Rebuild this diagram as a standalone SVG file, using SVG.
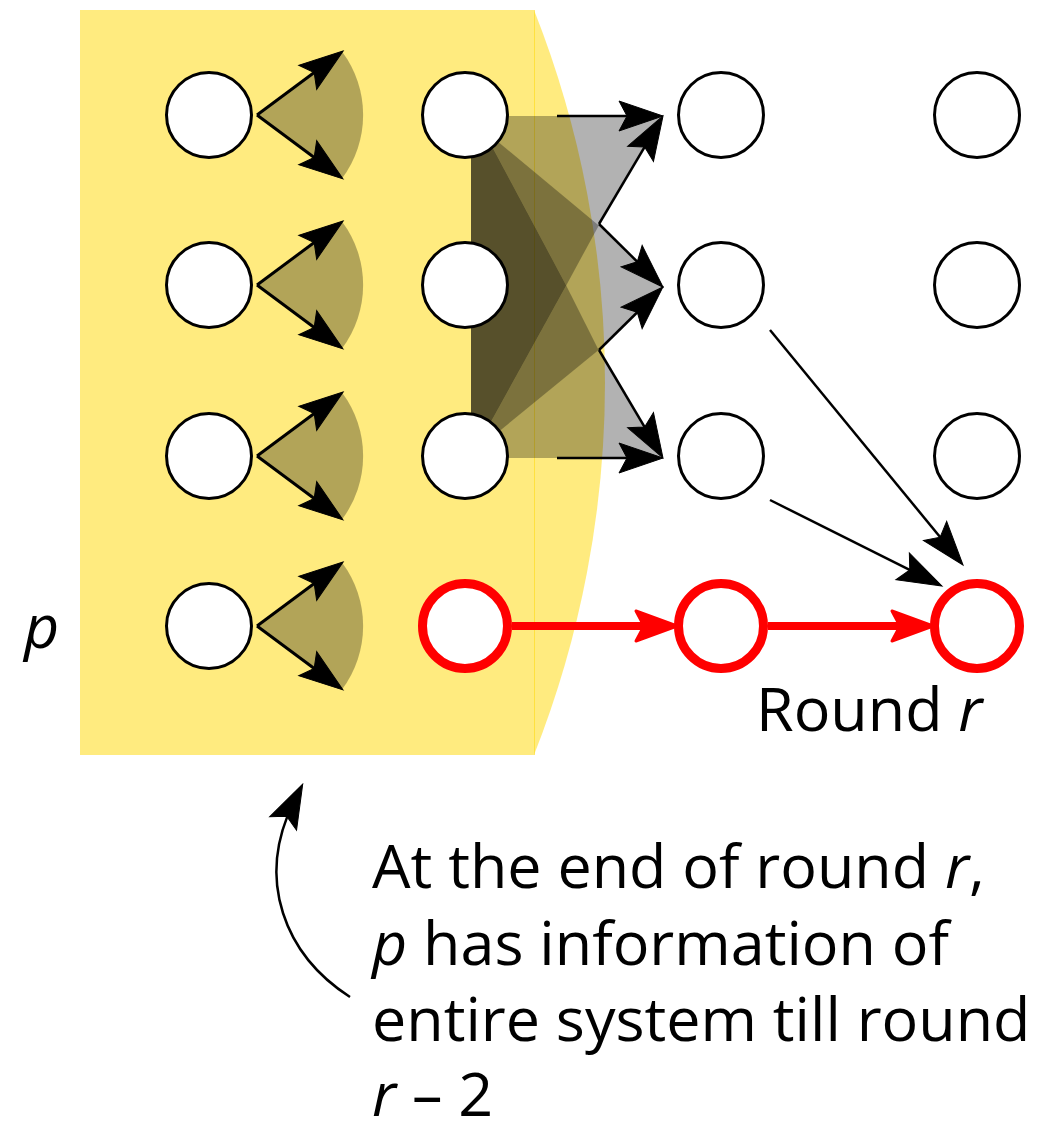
<svg xmlns="http://www.w3.org/2000/svg" width="1039" height="1123" viewBox="0 0 1039 1123">
<style>
.yel{fill:#ffd700;fill-opacity:0.5}
.shade{fill:#000;fill-opacity:0.3}
.dark{fill:#000;fill-opacity:0.51}
.node{fill:#fff;stroke:#000;stroke-width:3}
.rnode{fill:#fff;stroke:#ff0000;stroke-width:9}
.ln{fill:none;stroke:#000;stroke-width:3;marker-end:url(#ah)}
.thin{fill:none;stroke:#000;stroke-width:2.5;marker-end:url(#ah)}
.red{fill:none;stroke:#ff0000;stroke-width:8;marker-end:url(#rh)}
.txt{font-family:"Open Sans","Noto Sans","DejaVu Sans",sans-serif;font-size:61px;fill:#000}
.it{font-style:italic}
</style>
<defs>
<marker id="ah" markerUnits="userSpaceOnUse" viewBox="-26 -18 48 36" refX="0" refY="0" markerWidth="48" markerHeight="36" orient="auto">
<path d="M20,0 L-24,-15 L-16,0 L-24,15 Z" fill="#000" stroke="#000" stroke-width="1" stroke-linejoin="miter"/>
</marker>
<marker id="rh" markerUnits="userSpaceOnUse" viewBox="-26 -20 50 40" refX="0" refY="0" markerWidth="50" markerHeight="40" orient="auto">
<path d="M20,0 L-21,-15 L-13,0 L-21,15 Z" fill="#ff0000" stroke="#ff0000" stroke-width="3" stroke-linejoin="round"/>
</marker>
</defs>

<g id="region">
<rect class="yel" x="80" y="10" width="455" height="745"/>
<path class="yel" d="M534,10 A1012.7,1012.7 0 0 1 534,755 Z"/>
</g>

<g id="shading">
<path class="shade" d="M257,115 L342,51.5 A106,106 0 0 1 342,178.5 Z"/>
<path class="shade" d="M257,285 L342,221.5 A106,106 0 0 1 342,348.5 Z"/>
<path class="shade" d="M257,456 L342,392.5 A106,106 0 0 1 342,519.5 Z"/>
<path class="shade" d="M257,626 L342,562.5 A106,106 0 0 1 342,689.5 Z"/>
<polygon class="shade" points="471,116 663,116 599,224 663,287 599,350 663,458 471,458"/>
<polygon class="dark" points="471,116 482.6,129 566.2,285.4 474.6,451.3 471,458"/>
<polygon class="shade" points="482.6,129 598.8,225.4 566.2,285.4"/>
<polygon class="shade" points="474.6,451.3 566.2,285.4 598.6,350"/>
</g>

<g id="connectors">
<line class="ln" x1="257" y1="115" x2="327" y2="63"/>
<line class="ln" x1="257" y1="115" x2="327" y2="167"/>
<line class="ln" x1="257" y1="285" x2="327" y2="233"/>
<line class="ln" x1="257" y1="285" x2="327" y2="337"/>
<line class="ln" x1="257" y1="456" x2="327" y2="404"/>
<line class="ln" x1="257" y1="456" x2="327" y2="508"/>
<line class="ln" x1="257" y1="626" x2="327" y2="574"/>
<line class="ln" x1="257" y1="626" x2="327" y2="678"/>
<line class="thin" x1="557" y1="116" x2="643" y2="116"/>
<line class="thin" x1="599" y1="224" x2="652.8" y2="133.2"/>
<line class="thin" x1="599" y1="224" x2="648.7" y2="273"/>
<line class="thin" x1="599" y1="350" x2="648.7" y2="301"/>
<line class="thin" x1="599" y1="350" x2="652.8" y2="440.8"/>
<line class="thin" x1="557" y1="458" x2="643" y2="458"/>
<line class="thin" x1="770" y1="330" x2="950.3" y2="549.5"/>
<line class="thin" x1="770" y1="500" x2="924.1" y2="577.1"/>
<line class="red" x1="512" y1="626" x2="657" y2="626"/>
<line class="red" x1="768" y1="626" x2="913" y2="626"/>
<path class="thin" d="M350,997 C285,955 255,880 293.8,802"/>
</g>

<g id="nodes">
<g id="n-1-1"><circle class="node" cx="209" cy="115" r="42.5"/></g>
<g id="n-1-2"><circle class="node" cx="209" cy="285" r="42.5"/></g>
<g id="n-1-3"><circle class="node" cx="209" cy="456" r="42.5"/></g>
<g id="n-1-4"><circle class="node" cx="209" cy="626" r="42.5"/></g>
<g id="n-2-1"><circle class="node" cx="465" cy="115" r="42.5"/></g>
<g id="n-2-2"><circle class="node" cx="465" cy="285" r="42.5"/></g>
<g id="n-2-3"><circle class="node" cx="465" cy="456" r="42.5"/></g>
<g id="n-2-4"><circle class="rnode" cx="465" cy="626" r="42.5"/></g>
<g id="n-3-1"><circle class="node" cx="721" cy="115" r="42.5"/></g>
<g id="n-3-2"><circle class="node" cx="721" cy="285" r="42.5"/></g>
<g id="n-3-3"><circle class="node" cx="721" cy="456" r="42.5"/></g>
<g id="n-3-4"><circle class="rnode" cx="721" cy="626" r="42.5"/></g>
<g id="n-4-1"><circle class="node" cx="977" cy="115" r="42.5"/></g>
<g id="n-4-2"><circle class="node" cx="977" cy="285" r="42.5"/></g>
<g id="n-4-3"><circle class="node" cx="977" cy="456" r="42.5"/></g>
<g id="n-4-4"><circle class="rnode" cx="977" cy="626" r="42.5"/></g>
</g>

<g id="labels">
<text class="txt it" x="24" y="648" font-size="64">p</text>
<text class="txt" x="756" y="731">Round <tspan class="it">r</tspan></text>
<text class="txt" x="372" y="888">At the end of round <tspan class="it">r</tspan>,</text>
<text class="txt" x="372" y="965"><tspan class="it">p</tspan> has information of</text>
<text class="txt" x="372" y="1041">entire system till round</text>
<text class="txt" x="372" y="1116"><tspan class="it">r</tspan> – 2</text>
</g>
</svg>
